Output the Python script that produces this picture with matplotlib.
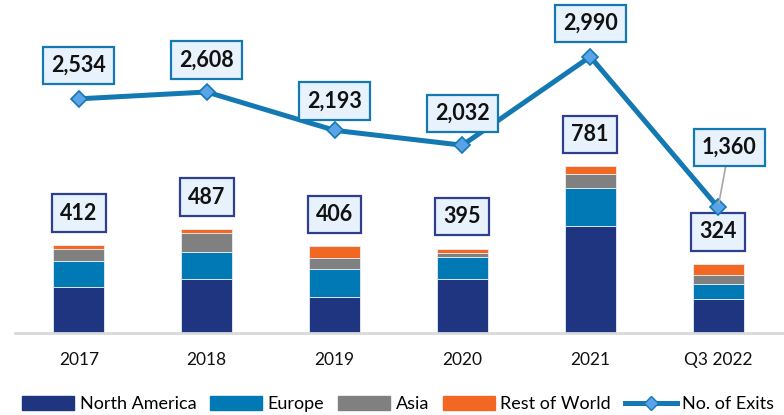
import matplotlib
matplotlib.use("Agg")
import matplotlib.pyplot as plt
from matplotlib.patches import Patch
from matplotlib.lines import Line2D
import numpy as np

categories = ["2017", "2018", "2019", "2020", "2021", "Q3 2022"]
north_america = [214, 254, 170, 251, 502, 161]
europe = [125, 126, 128, 103, 178, 70]
asia = [53, 86, 55, 22, 66, 39]
rest_of_world = [20, 21, 53, 19, 35, 54]
bar_totals = [412, 487, 406, 395, 781, 324]
exits = [2534, 2608, 2193, 2032, 2990, 1360]

plt.rcParams['font.family'] = ['Lato', 'DejaVu Sans']

W, H = 784, 415
fig = plt.figure(figsize=(W / 100, H / 100), dpi=100)
ax = fig.add_axes([15 / W, (H - 333) / H, 767 / W, 313 / H])
ax2 = ax.twinx()

x = np.arange(len(categories))
c_na, c_eu, c_as, c_rw = "#1F3580", "#0079B4", "#808080", "#F26722"
bw = 0.4
bottom = np.zeros(len(x))
for vals, col in [(north_america, c_na), (europe, c_eu), (asia, c_as), (rest_of_world, c_rw)]:
    ax.bar(x, vals, bw, bottom=bottom, color=col, edgecolor="#E8EEF6", linewidth=0.6, zorder=2)
    bottom += np.array(vals)

ax.set_ylim(0, 1465)
ax2.set_ylim(0, 3387)
ax.set_xlim(-0.5, len(x) - 0.5)

for xi, tot in zip(x, bar_totals):
    ax.annotate(f"{tot:,}", (xi, tot), xytext=(0, 23), textcoords="offset points",
                ha="center", va="center", fontsize=15.5, fontweight="bold", color="#111111",
                bbox=dict(boxstyle="square,pad=0.38", fc="#E8F2FC", ec="#2E3F8F", lw=1.6), zorder=5)

ax2.plot(x, exits, color="#1479B3", lw=3.6, marker="D", markersize=8,
         markerfacecolor="#5BA3E8", markeredgecolor="#1479B3", markeredgewidth=1.2, zorder=4)

offsets = [(0, 24), (0, 23), (0, 21), (0, 23), (0, 24), (8, 43)]
for i, (xi, v) in enumerate(zip(x, exits)):
    kw = {}
    if i == len(x) - 1:
        kw = dict(arrowprops=dict(arrowstyle="-", color="#A6A6A6", lw=1.2, shrinkA=0, shrinkB=3))
    ax2.annotate(f"{v:,}", (xi, v), xytext=offsets[i], textcoords="offset points",
                 ha="center", va="center", fontsize=15.5, fontweight="bold", color="#111111",
                 bbox=dict(boxstyle="square,pad=0.38", fc="#E8F2FC", ec="#1479B3", lw=1.6),
                 zorder=6, **kw)

for a in (ax, ax2):
    for s in ["top", "right", "left"]:
        a.spines[s].set_visible(False)
    a.set_yticks([])
ax.spines["bottom"].set_color("#D9D9D9")
ax.spines["bottom"].set_linewidth(2)
ax2.spines["bottom"].set_visible(False)
ax.set_xticks(x)
ax.set_xticklabels(categories, fontsize=12.5)
ax.tick_params(axis="x", length=0, pad=14, colors="#111111")

handles = [Patch(color=c_na), Patch(color=c_eu), Patch(color=c_as), Patch(color=c_rw),
           Line2D([0], [0], color="#1479B3", lw=3.6, marker="D", markersize=7,
                  markerfacecolor="#5BA3E8", markeredgecolor="#1479B3")]
labels = ["North America", "Europe", "Asia", "Rest of World", "No. of Exits"]
fig.legend(handles, labels, loc="center left", bbox_to_anchor=(22 / W, 1 - 404 / H), ncol=5,
           frameon=False, fontsize=13, handlelength=2.9, handleheight=0.8,
           columnspacing=0.75, handletextpad=0.3, borderaxespad=0, borderpad=0)

fig.savefig("out.png", dpi=100)
